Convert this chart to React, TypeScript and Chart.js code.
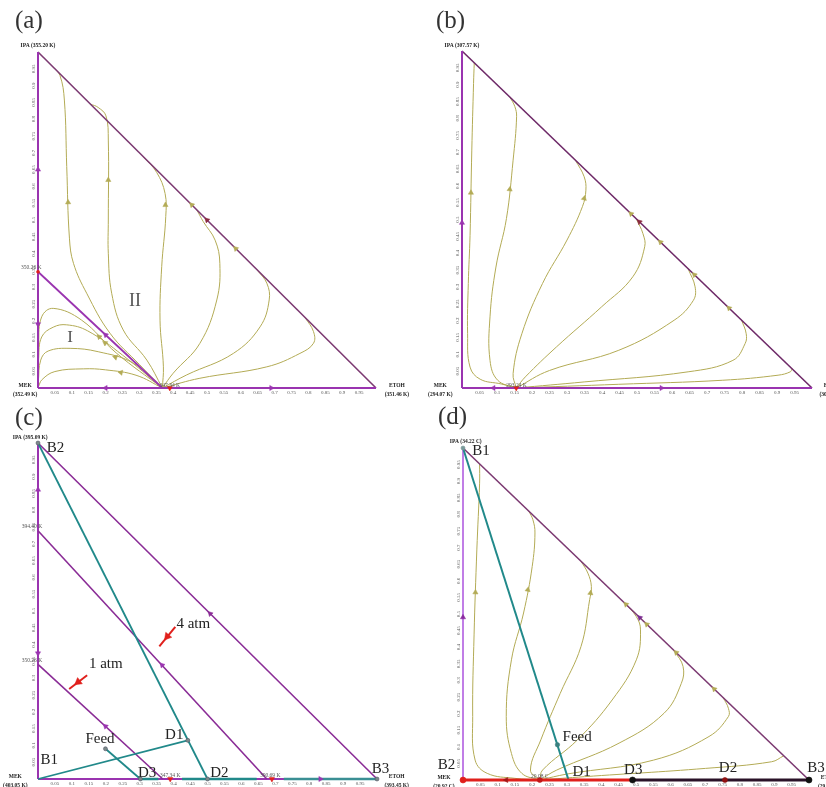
import React, { useEffect, useRef } from 'react';
import { Chart, registerables } from 'chart.js';
Chart.register(...registerables);

// ---------- shared ticks ----------
const TICK_VALUES = [0.05, 0.1, 0.15, 0.2, 0.25, 0.3, 0.35, 0.4, 0.45, 0.5, 0.55, 0.6, 0.65, 0.7, 0.75, 0.8, 0.85, 0.9, 0.95];
const TICK_LABELS = ['0.05', '0.1', '0.15', '0.2', '0.25', '0.3', '0.35', '0.4', '0.45', '0.5', '0.55', '0.6', '0.65', '0.7', '0.75', '0.8', '0.85', '0.9', '0.95'];

// ---------- panel (a) data : x = ETOH, y = IPA ----------
const A_EDGE_LEFT = [[0, 0], [0, 1]];
const A_EDGE_BOTTOM = [[0, 0], [1, 0]];
const A_HYP = [[0, 1], [1, 0]];
const A_BOUNDARY = [[0, 0.346], [0.368, 0]];
const A_I1 = [[0.368, 0], [0.233, 0.103], [0.129, 0.202], [0.045, 0.237], [0.011, 0.212], [0.002, 0.133], [0.001, 0.003]];
const A_I2 = [[0.368, 0], [0.25, 0.098], [0.147, 0.17], [0.085, 0.188], [0.045, 0.181], [0.011, 0.152], [0.002, 0.087], [0.001, 0.003]];
const A_I3 = [[0.368, 0], [0.28, 0.075], [0.178, 0.108], [0.095, 0.118], [0.03, 0.11], [0.008, 0.083], [0.001, 0.02]];
const A_I4 = [[0.368, 0], [0.29, 0.038], [0.2, 0.054], [0.134, 0.057], [0.05, 0.049], [0.012, 0.025], [0.001, 0.003]];
const A_II1 = [[0.368, 0], [0.3, 0.07], [0.213, 0.163], [0.144, 0.282], [0.105, 0.371], [0.093, 0.446], [0.085, 0.659], [0.078, 0.857], [0.065, 0.93], [0.045, 0.955]];
const A_II2 = [[0.368, 0], [0.322, 0.083], [0.252, 0.173], [0.218, 0.282], [0.208, 0.401], [0.208, 0.5], [0.208, 0.738], [0.201, 0.81], [0.178, 0.835], [0.155, 0.845]];
const A_II3 = [[0.368, 0], [0.371, 0.063], [0.361, 0.202], [0.366, 0.361], [0.378, 0.51], [0.376, 0.579], [0.351, 0.642], [0.312, 0.688]];
const A_II4 = [[0.368, 0], [0.4, 0.044], [0.479, 0.133], [0.529, 0.262], [0.538, 0.371], [0.524, 0.44], [0.489, 0.495], [0.47, 0.53]];
const A_II5 = [[0.368, 0], [0.44, 0.039], [0.578, 0.103], [0.657, 0.182], [0.684, 0.262], [0.677, 0.312], [0.647, 0.353]];
const A_II6 = [[0.368, 0], [0.479, 0.029], [0.677, 0.063], [0.775, 0.103], [0.815, 0.133], [0.815, 0.168], [0.79, 0.21]];

// ---------- panel (b) data ----------
const B_C1 = [[0.155, 0], [0.112, 0.012], [0.052, 0.026], [0.023, 0.062], [0.016, 0.161], [0.018, 0.31], [0.023, 0.453], [0.028, 0.706], [0.033, 0.904], [0.035, 0.965]];
const B_C2 = [[0.155, 0], [0.102, 0.023], [0.08, 0.082], [0.08, 0.211], [0.097, 0.359], [0.127, 0.503], [0.146, 0.676], [0.156, 0.805], [0.151, 0.835], [0.137, 0.863]];
const B_C3 = [[0.155, 0], [0.146, 0.043], [0.171, 0.161], [0.23, 0.31], [0.3, 0.439], [0.344, 0.538], [0.354, 0.587], [0.349, 0.627], [0.324, 0.676]];
const B_C4 = [[0.155, 0], [0.181, 0.033], [0.27, 0.122], [0.399, 0.241], [0.488, 0.33], [0.522, 0.419], [0.517, 0.458], [0.498, 0.502]];
const B_C5 = [[0.155, 0], [0.25, 0.052], [0.448, 0.112], [0.606, 0.201], [0.661, 0.26], [0.666, 0.3], [0.646, 0.354]];
const B_C6 = [[0.155, 0], [0.349, 0.018], [0.646, 0.048], [0.774, 0.082], [0.809, 0.132], [0.812, 0.161], [0.799, 0.201]];
const B_C7 = [[0.155, 0], [0.448, 0.011], [0.745, 0.023], [0.903, 0.038], [0.938, 0.048], [0.943, 0.057]];

// ---------- panel (c) data ----------
const C_BOUND_4ATM = [[0, 0.739], [0.675, 0]];
const C_BOUND_1ATM = [[0, 0.341], [0.368, 0]];
const C_B2_D2 = [[0, 1], [0.5, 0]];
const C_B1_D1 = [[0, 0], [0.442, 0.115]];
const C_FEED_D3 = [[0.199, 0.09], [0.302, 0]];
const C_BOTTOM_1 = [[0.302, 0], [0.355, 0]];
const C_BOTTOM_2 = [[0.425, 0], [0.645, 0]];
const C_BOTTOM_3 = [[0.725, 0], [1, 0]];
const C_POINTS = [[0, 1], [0.442, 0.115], [0.199, 0.09], [0.302, 0], [0.5, 0], [1, 0]];
const C_ARROW_4ATM = [[0.405, 0.453], [0.358, 0.395]];
const C_ARROW_1ATM = [[0.145, 0.309], [0.092, 0.268]];

// ---------- panel (d) data ----------
const D_C1 = [[0.222, 0], [0.15, 0.005], [0.07, 0.02], [0.035, 0.06], [0.028, 0.191], [0.032, 0.437], [0.04, 0.693], [0.048, 0.894], [0.048, 0.952]];
const D_C2 = [[0.222, 0], [0.17, 0.02], [0.14, 0.08], [0.125, 0.191], [0.14, 0.362], [0.175, 0.503], [0.2, 0.643], [0.208, 0.744], [0.202, 0.784], [0.19, 0.81]];
const D_C3 = [[0.222, 0], [0.195, 0.03], [0.225, 0.121], [0.281, 0.261], [0.341, 0.402], [0.366, 0.543], [0.371, 0.583], [0.361, 0.623], [0.341, 0.659]];
const D_C4 = [[0.222, 0], [0.23, 0.03], [0.331, 0.121], [0.431, 0.241], [0.501, 0.362], [0.513, 0.452], [0.501, 0.492], [0.466, 0.534]];
const D_C5 = [[0.222, 0], [0.271, 0.03], [0.451, 0.111], [0.581, 0.201], [0.631, 0.291], [0.636, 0.342], [0.611, 0.389]];
const D_C6 = [[0.222, 0], [0.301, 0.018], [0.551, 0.06], [0.711, 0.131], [0.767, 0.191], [0.767, 0.216], [0.752, 0.248]];
const D_C7 = [[0.222, 0], [0.351, 0.01], [0.701, 0.035], [0.892, 0.055], [0.927, 0.073]];
const D_B1_D1 = [[0, 1], [0.305, 0]];
const D_FEED = [[0.273, 0.106]];
const D_RED_BOTTOM = [[0, 0], [0.49, 0]];
const D_BLACK_BOTTOM = [[0.49, 0], [1, 0]];

// ---------- styling ----------
const SERIF = "'Liberation Serif', 'DejaVu Serif', serif";
const OLIVE = '#b3ab55';
const PURPLE = '#9a34b0';
const HYP_COL = '#7c3a72';
const TEAL = '#21898a';
const RED = '#e0201c';

type Pt = number[];
interface LineSpec { pts: Pt[]; color: string; width: number; tension?: number; }
interface ArrowSpec { x: number; y: number; dx: number; dy: number; color: string; size?: number; }
interface MarkSpec { x: number; y: number; color: string; r: number; style?: string; border?: string; }
interface TextSpec { text: string; x: number; y: number; font: string; color?: string; align?: CanvasTextAlign; }
interface PanelSpec {
  left: number; top: number; width: number; height: number;
  area: { l: number; t: number; r: number; b: number };
  lines: LineSpec[]; arrows: ArrowSpec[]; marks: MarkSpec[]; texts: TextSpec[];
}

const curve = (pts: Pt[], color = OLIVE, width = 1): LineSpec => ({ pts, color, width, tension: 0.4 });
const straight = (pts: Pt[], color: string, width: number): LineSpec => ({ pts, color, width, tension: 0 });
const arrowOn = (pts: Pt[], i: number, color = OLIVE, size = 3): ArrowSpec => {
  const a = pts[i], b = pts[i + 1];
  return { x: (a[0] + b[0]) / 2, y: (a[1] + b[1]) / 2, dx: b[0] - a[0], dy: b[1] - a[1], color, size };
};
const hypArrow = (x: number, color = OLIVE, size = 3): ArrowSpec => ({ x, y: 1 - x, dx: -1, dy: 1, color, size });
const edgeArrow = (x: number, y: number, dx: number, dy: number, color = PURPLE, size = 3): ArrowSpec => ({ x, y, dx, dy, color, size });

const VB = `bold 5.5px ${SERIF}`;
const SMALL = `5.5px ${SERIF}`;
const BIG = `15px ${SERIF}`;
const vertexTexts = (top: string, mek: string, etoh: string, xTop: number, yTop: number, xMek: number, xEt: number): TextSpec[] => [
  { text: top, x: xTop, y: yTop, font: VB, color: '#222' },
  { text: 'MEK', x: xMek, y: 0.007, font: VB, color: '#222' },
  { text: mek, x: xMek, y: -0.021, font: VB, color: '#222' },
  { text: 'ETOH', x: xEt, y: 0.007, font: VB, color: '#222' },
  { text: etoh, x: xEt, y: -0.021, font: VB, color: '#222' },
];

const PANEL_A: PanelSpec = {
  left: 0, top: 0, width: 413, height: 400,
  area: { l: 38, t: 52, r: 37, b: 12 },
  lines: [
    ...[A_I1, A_I2, A_I3, A_I4, A_II1, A_II2, A_II3, A_II4, A_II5, A_II6].map((c) => curve(c)),
    straight(A_HYP, HYP_COL, 1.6),
    straight(A_BOUNDARY, PURPLE, 1.8),
    straight(A_EDGE_LEFT, PURPLE, 2),
    straight(A_EDGE_BOTTOM, PURPLE, 2),
  ],
  arrows: [
    arrowOn(A_I1, 1), arrowOn(A_I2, 1), arrowOn(A_I3, 1), arrowOn(A_I4, 1),
    arrowOn(A_II1, 5), arrowOn(A_II2, 5), arrowOn(A_II3, 4),
    hypArrow(0.455), hypArrow(0.585), hypArrow(0.5, '#8a2a40'),
    edgeArrow(0.2, 0.158, -1, 0.94), edgeArrow(0, 0.65, 0, 1), edgeArrow(0, 0.19, 0, -1),
    edgeArrow(0.2, 0, -1, 0), edgeArrow(0.69, 0, 1, 0), edgeArrow(0.39, 0, 0, -1, RED),
  ],
  marks: [{ x: 0, y: 0.346, color: RED, r: 1.5 }],
  texts: [
    ...vertexTexts('IPA (355.20 K)', '(352.49 K)', '(351.46 K)', 0, 1.018, -0.038, 1.062),
    { text: '350.26 K', x: -0.02, y: 0.357, font: SMALL, color: '#555' },
    { text: '347.34 K', x: 0.39, y: 0.007, font: SMALL, color: '#555' },
    { text: 'I', x: 0.095, y: 0.15, font: `17px ${SERIF}`, color: '#555' },
    { text: 'II', x: 0.287, y: 0.257, font: `18px ${SERIF}`, color: '#555' },
  ],
};

const PANEL_B: PanelSpec = {
  left: 413, top: 0, width: 413, height: 400,
  area: { l: 49, t: 51, r: 14, b: 12 },
  lines: [
    ...[B_C1, B_C2, B_C3, B_C4, B_C5, B_C6, B_C7].map((c) => curve(c)),
    straight(A_HYP, '#6e2a68', 1.6),
    straight(A_EDGE_LEFT, PURPLE, 2),
    straight(A_EDGE_BOTTOM, PURPLE, 2),
  ],
  arrows: [
    arrowOn(B_C1, 6), arrowOn(B_C2, 5), arrowOn(B_C3, 5),
    hypArrow(0.483), hypArrow(0.567), hypArrow(0.664), hypArrow(0.763), hypArrow(0.507, '#8a2a40'),
    edgeArrow(0, 0.49, 0, 1), edgeArrow(0.09, 0, -1, 0), edgeArrow(0.57, 0, 1, 0), edgeArrow(0.155, 0, 0, -1, RED),
  ],
  marks: [],
  texts: [
    ...vertexTexts('IPA (307.57 K)', '(294.07 K)', '(302.47 K)', 0, 1.016, -0.062, 1.056),
    { text: '293.24 K', x: 0.156, y: 0.008, font: SMALL, color: '#555' },
  ],
};

const PANEL_C: PanelSpec = {
  left: 0, top: 400, width: 413, height: 387,
  area: { l: 38, t: 43, r: 36, b: 8 },
  lines: [
    straight(A_EDGE_LEFT, PURPLE, 2),
    straight(A_EDGE_BOTTOM, PURPLE, 2),
    straight(A_HYP, '#8a2c96', 1.6),
    straight(C_BOUND_4ATM, '#8a2c96', 1.6),
    straight(C_BOUND_1ATM, '#8a2c96', 1.6),
    straight(C_B2_D2, TEAL, 1.8),
    straight(C_B1_D1, TEAL, 1.8),
    straight(C_FEED_D3, TEAL, 1.8),
    straight(C_BOTTOM_1, TEAL, 2.5),
    straight(C_BOTTOM_2, TEAL, 2.5),
    straight(C_BOTTOM_3, '#3a8f94', 2.5),
    straight(C_ARROW_4ATM, RED, 2),
    straight(C_ARROW_1ATM, RED, 2),
  ],
  arrows: [
    arrowOn(C_ARROW_4ATM, 0, RED, 4.5), arrowOn(C_ARROW_1ATM, 0, RED, 4.5),
    hypArrow(0.508, '#8a2c96'), edgeArrow(0.366, 0.339, -1, 1.095), edgeArrow(0.199, 0.157, -1, 0.927),
    edgeArrow(0, 0.861, 0, 1), edgeArrow(0, 0.374, 0, -1), edgeArrow(0.833, 0, 1, 0),
    edgeArrow(0.39, 0, 0, -1, RED), edgeArrow(0.69, 0, 0, -1, RED),
  ],
  marks: C_POINTS.map((p) => ({ x: p[0], y: p[1], color: '#7a8a8a', r: 2, border: '#556' })),
  texts: [
    ...vertexTexts('IPA (395.09 K)', '(403.05 K)', '(393.45 K)', -0.023, 1.017, -0.067, 1.058),
    { text: '394.40 K', x: -0.018, y: 0.75, font: SMALL, color: '#555' },
    { text: '350.26 K', x: -0.018, y: 0.352, font: SMALL, color: '#555' },
    { text: '347.34 K', x: 0.39, y: 0.009, font: SMALL, color: '#555' },
    { text: '390.69 K', x: 0.685, y: 0.009, font: SMALL, color: '#555' },
    { text: 'B2', x: 0.026, y: 0.985, font: BIG, color: '#222', align: 'left' },
    { text: 'B1', x: 0.033, y: 0.055, font: BIG, color: '#222' },
    { text: 'B3', x: 1.01, y: 0.03, font: BIG, color: '#222' },
    { text: 'D1', x: 0.402, y: 0.13, font: BIG, color: '#222' },
    { text: 'D2', x: 0.535, y: 0.018, font: BIG, color: '#222' },
    { text: 'D3', x: 0.322, y: 0.018, font: BIG, color: '#222' },
    { text: 'Feed', x: 0.183, y: 0.118, font: BIG, color: '#222' },
    { text: '4 atm', x: 0.458, y: 0.46, font: BIG, color: '#222' },
    { text: '1 atm', x: 0.2, y: 0.342, font: BIG, color: '#222' },
  ],
};

const PANEL_D: PanelSpec = {
  left: 413, top: 400, width: 413, height: 387,
  area: { l: 50, t: 48, r: 17, b: 7 },
  lines: [
    ...[D_C1, D_C2, D_C3, D_C4, D_C5, D_C6, D_C7].map((c) => curve(c)),
    straight(A_HYP, HYP_COL, 1.6),
    straight(A_EDGE_LEFT, '#c07ee6', 2),
    straight(D_B1_D1, TEAL, 2),
    straight(D_RED_BOTTOM, RED, 3),
    straight(D_BLACK_BOTTOM, '#2a1228', 3),
  ],
  arrows: [
    arrowOn(D_C1, 5), arrowOn(D_C2, 5), arrowOn(D_C3, 5),
    hypArrow(0.471), hypArrow(0.531), hypArrow(0.616), hypArrow(0.726), hypArrow(0.511, '#7a2a90'),
    edgeArrow(0, 0.49, 0, 1, '#8a2aa0'), edgeArrow(0.125, 0, -1, 0, '#a01818'),
  ],
  marks: [
    { x: 0, y: 1, color: '#7a9a9a', r: 2 },
    { x: D_FEED[0][0], y: D_FEED[0][1], color: '#3a8080', r: 2.2 },
    { x: 0, y: 0, color: RED, r: 3 },
    { x: 0.222, y: 0, color: '#c01818', r: 2.5 },
    { x: 0.49, y: 0, color: '#111', r: 3 },
    { x: 0.757, y: 0, color: '#901010', r: 2.5 },
    { x: 1, y: 0, color: '#111', r: 3 },
  ],
  texts: [
    ...vertexTexts('IPA (34.22 C)', '(20.92 C)', '(29.32 C)', 0.008, 1.02, -0.055, 1.057),
    { text: '20.08 C', x: 0.222, y: 0.009, font: SMALL, color: '#555' },
    { text: 'B1', x: 0.052, y: 0.99, font: BIG, color: '#222' },
    { text: 'B2', x: -0.048, y: 0.045, font: BIG, color: '#222' },
    { text: 'B3', x: 1.02, y: 0.035, font: BIG, color: '#222' },
    { text: 'D1', x: 0.343, y: 0.025, font: BIG, color: '#222' },
    { text: 'D3', x: 0.492, y: 0.03, font: BIG, color: '#222' },
    { text: 'D2', x: 0.766, y: 0.035, font: BIG, color: '#222' },
    { text: 'Feed', x: 0.33, y: 0.13, font: BIG, color: '#222' },
  ],
};

const PANELS = [PANEL_A, PANEL_B, PANEL_C, PANEL_D];
const PANEL_LETTERS = [
  { text: '(a)', left: 15, top: 7 },
  { text: '(b)', left: 436, top: 7 },
  { text: '(c)', left: 15, top: 404 },
  { text: '(d)', left: 438, top: 403 },
];

const TICK_FONT = `5px ${SERIF}`;
const TICK_COLOR = '#555';

function Panel({ spec }: { spec: PanelSpec }) {
  const ref = useRef<HTMLCanvasElement | null>(null);
  useEffect(() => {
    if (!ref.current) return;
    const Y_W = 9;
    const X_H = 7;
    const built: any[] = [];
    spec.lines.forEach((l) => {
      built.push({
        data: l.pts.map((p) => ({ x: p[0], y: p[1] })),
        showLine: true,
        borderColor: l.color,
        backgroundColor: l.color,
        borderWidth: l.width,
        pointRadius: 0,
        pointHoverRadius: 0,
        tension: l.tension || 0,
        fill: false,
        clip: false,
      });
    });
    const arrows = spec.arrows;
    built.push({
      data: arrows.map((a) => ({ x: a.x, y: a.y, dx: a.dx, dy: a.dy })),
      showLine: false,
      pointStyle: 'triangle',
      pointRadius: (c: any) => (arrows[c.dataIndex] ? arrows[c.dataIndex].size || 3 : 3),
      backgroundColor: (c: any) => (arrows[c.dataIndex] ? arrows[c.dataIndex].color : OLIVE),
      borderColor: (c: any) => (arrows[c.dataIndex] ? arrows[c.dataIndex].color : OLIVE),
      borderWidth: 0.5,
      rotation: (c: any) => {
        const d = c.raw;
        if (!d || d.dx === undefined) return 0;
        const ch = c.chart;
        const xs = ch.scales.x, ys = ch.scales.y;
        const pdx = xs.getPixelForValue(d.x + d.dx * 0.01) - xs.getPixelForValue(d.x);
        const pdy = ys.getPixelForValue(d.y + d.dy * 0.01) - ys.getPixelForValue(d.y);
        return (Math.atan2(pdx, -pdy) * 180) / Math.PI;
      },
      clip: false,
    });
    const marks = spec.marks;
    built.push({
      data: marks.map((m) => ({ x: m.x, y: m.y })),
      showLine: false,
      pointStyle: 'circle',
      pointRadius: (c: any) => (marks[c.dataIndex] ? marks[c.dataIndex].r : 2),
      backgroundColor: (c: any) => (marks[c.dataIndex] ? marks[c.dataIndex].color : '#000'),
      borderColor: (c: any) => (marks[c.dataIndex] ? marks[c.dataIndex].border || marks[c.dataIndex].color : '#000'),
      borderWidth: 0.6,
      clip: false,
    });
    const datasets = built.reverse();

    const textPlugin = {
      id: 'panelTexts',
      afterDatasetsDraw(chart: any) {
        const ctx = chart.ctx;
        const xs = chart.scales.x, ys = chart.scales.y;
        // rotated y-axis tick labels, positioned by the y scale
        const axisX = xs.getPixelForValue(0);
        ys.ticks.forEach((t: any, i: number) => {
          const py = ys.getPixelForValue(t.value);
          ctx.save();
          ctx.translate(axisX - 4, py);
          ctx.rotate(-Math.PI / 2);
          ctx.font = TICK_FONT;
          ctx.fillStyle = TICK_COLOR;
          ctx.textAlign = 'center';
          ctx.textBaseline = 'middle';
          ctx.fillText(TICK_LABELS[i], 0, 0);
          ctx.restore();
        });
        spec.texts.forEach((t) => {
          ctx.save();
          ctx.font = t.font;
          ctx.fillStyle = t.color || '#222';
          ctx.textAlign = t.align || 'center';
          ctx.textBaseline = 'middle';
          ctx.fillText(t.text, xs.getPixelForValue(t.x), ys.getPixelForValue(t.y));
          ctx.restore();
        });
      },
    };

    const chart = new Chart(ref.current, {
      type: 'scatter',
      data: { datasets },
      options: {
        animation: false,
        responsive: false,
        maintainAspectRatio: false,
        devicePixelRatio: 1,
        events: [],
        layout: {
          padding: {
            left: spec.area.l - Y_W,
            top: spec.area.t,
            right: spec.area.r,
            bottom: Math.max(0, spec.area.b - X_H),
          },
        },
        plugins: { legend: { display: false }, tooltip: { enabled: false } },
        scales: {
          x: {
            type: 'linear',
            min: 0,
            max: 1,
            grid: { display: false, drawTicks: false },
            border: { display: false },
            afterBuildTicks: (s: any) => { s.ticks = TICK_VALUES.map((v) => ({ value: v })); },
            afterFit: (s: any) => { s.height = X_H; },
            ticks: {
              autoSkip: false,
              padding: 1.5,
              color: TICK_COLOR,
              font: { size: 5, family: SERIF },
              maxRotation: 0,
              minRotation: 0,
              callback: (_v: any, i: number) => TICK_LABELS[i],
            },
          },
          y: {
            type: 'linear',
            min: 0,
            max: 1,
            grid: { display: false, drawTicks: false },
            border: { display: false },
            afterBuildTicks: (s: any) => { s.ticks = TICK_VALUES.map((v) => ({ value: v })); },
            afterFit: (s: any) => { s.width = Y_W; },
            ticks: { display: false },
          },
        },
      } as any,
      plugins: [textPlugin],
    });
    return () => chart.destroy();
  }, [spec]);

  return (
    <canvas
      ref={ref}
      width={spec.width}
      height={spec.height}
      style={{ position: 'absolute', left: spec.left, top: spec.top, width: spec.width, height: spec.height }}
    />
  );
}

export default function App() {
  return (
    <div style={{ position: 'absolute', left: 0, top: 0, width: 826, height: 787, background: '#fff', overflow: 'hidden' }}>
      {PANELS.map((p, i) => (
        <Panel key={i} spec={p} />
      ))}
      {PANEL_LETTERS.map((l) => (
        <div
          key={l.text}
          style={{
            position: 'absolute', left: l.left, top: l.top, fontFamily: SERIF, fontSize: 25,
            lineHeight: '26px', color: '#333',
          }}
        >
          {l.text}
        </div>
      ))}
    </div>
  );
}
